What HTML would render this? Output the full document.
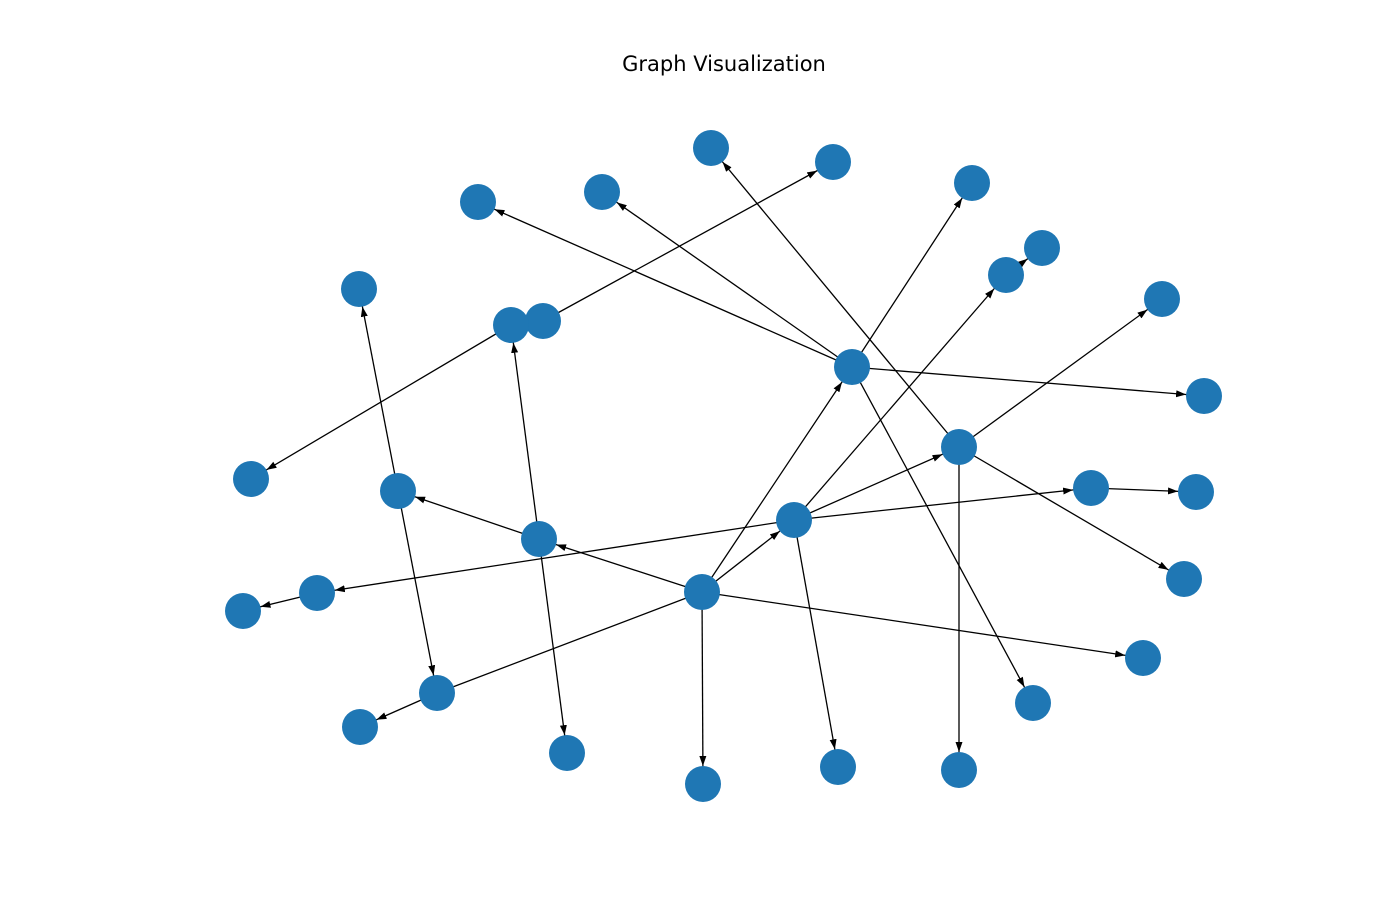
<!DOCTYPE html>
<html><head><meta charset="utf-8"><style>
html,body{margin:0;padding:0;background:#fff;}
svg{display:block;}
</style></head><body>
<svg width="1398" height="910" xmlns="http://www.w3.org/2000/svg">
<defs>
<marker id="a" markerUnits="userSpaceOnUse" markerWidth="40" markerHeight="10" refX="28" refY="3.5" orient="auto">
<path d="M0,0 L10,3.5 L0,7 Z" fill="#000"/>
</marker>
</defs>
<text x="724" y="71" font-family="DejaVu Sans, Liberation Sans, sans-serif" font-size="21" text-anchor="middle">Graph Visualization</text>
<g stroke="#000" stroke-width="1.3" marker-end="url(#a)">
<line x1="852" y1="367" x2="478" y2="202"/>
<line x1="852" y1="367" x2="602" y2="192"/>
<line x1="852" y1="367" x2="972" y2="183"/>
<line x1="852" y1="367" x2="1204" y2="396"/>
<line x1="852" y1="367" x2="1033" y2="703"/>
<line x1="959" y1="447" x2="711" y2="148"/>
<line x1="959" y1="447" x2="1162" y2="299"/>
<line x1="959" y1="447" x2="959" y2="770"/>
<line x1="959" y1="447" x2="1184" y2="579"/>
<line x1="543" y1="321" x2="833" y2="162"/>
<line x1="511" y1="325" x2="251" y2="479"/>
<line x1="1006" y1="275" x2="1042" y2="248"/>
<line x1="794" y1="520" x2="1006" y2="275"/>
<line x1="794" y1="520" x2="959" y2="447"/>
<line x1="794" y1="520" x2="317" y2="593"/>
<line x1="794" y1="520" x2="1091" y2="488"/>
<line x1="794" y1="520" x2="838" y2="767"/>
<line x1="1091" y1="488" x2="1196" y2="492"/>
<line x1="317" y1="593" x2="243" y2="611"/>
<line x1="702" y1="592" x2="852" y2="367"/>
<line x1="702" y1="592" x2="794" y2="520"/>
<line x1="702" y1="592" x2="539" y2="539"/>
<line x1="702" y1="592" x2="703" y2="784"/>
<line x1="702" y1="592" x2="1143" y2="658"/>
<line x1="539" y1="539" x2="398" y2="491"/>
<line x1="539" y1="539" x2="511" y2="325"/>
<line x1="539" y1="539" x2="567" y2="753"/>
<line x1="398" y1="491" x2="359" y2="289"/>
<line x1="398" y1="491" x2="437" y2="693"/>
<line x1="437" y1="693" x2="360" y2="727"/>
</g>
<line x1="702" y1="592" x2="437" y2="693" stroke="#000" stroke-width="1.3"/>
<g fill="#1f77b4">
<circle cx="711" cy="148" r="18"/><circle cx="833" cy="162" r="18"/><circle cx="478" cy="202" r="18"/>
<circle cx="602" cy="192" r="18"/><circle cx="972" cy="183" r="18"/><circle cx="1042" cy="248" r="18"/>
<circle cx="1006" cy="275" r="18"/><circle cx="359" cy="289" r="18"/><circle cx="1162" cy="299" r="18"/>
<circle cx="543" cy="321" r="18"/><circle cx="511" cy="325" r="18"/><circle cx="852" cy="367" r="18"/>
<circle cx="1204" cy="396" r="18"/><circle cx="251" cy="479" r="18"/><circle cx="959" cy="447" r="18"/>
<circle cx="398" cy="491" r="18"/><circle cx="1091" cy="488" r="18"/><circle cx="1196" cy="492" r="18"/>
<circle cx="794" cy="520" r="18"/><circle cx="539" cy="539" r="18"/><circle cx="1184" cy="579" r="18"/>
<circle cx="317" cy="593" r="18"/><circle cx="702" cy="592" r="18"/><circle cx="243" cy="611" r="18"/>
<circle cx="1143" cy="658" r="18"/><circle cx="437" cy="693" r="18"/><circle cx="1033" cy="703" r="18"/>
<circle cx="360" cy="727" r="18"/><circle cx="567" cy="753" r="18"/><circle cx="703" cy="784" r="18"/>
<circle cx="838" cy="767" r="18"/><circle cx="959" cy="770" r="18"/>
</g>
</svg>
</body></html>
